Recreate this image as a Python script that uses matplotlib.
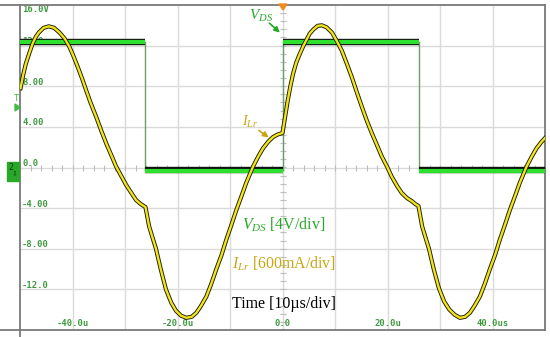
import matplotlib
matplotlib.use("Agg")
import matplotlib.pyplot as plt
import numpy as np
from matplotlib.lines import Line2D
from matplotlib.patches import Rectangle, Polygon

# ---------------- data ----------------
# Resonant inductor current I_Lr, plotted in screen units (4 per division)
t_ilr = [-49.9, -49.4, -48.9, -48.2, -47.6, -47.0, -46.4, -45.5, -44.5, -43.5,
         -42.5, -41.5, -40.6, -39.8, -39.0, -38.2, -37.4, -36.5, -35.5, -34.5,
         -33.6, -32.6, -31.7, -30.7, -29.8, -28.8, -27.9, -27.0, -26.1, -25.4,
         -24.7, -24.1, -23.2, -22.2, -21.2, -20.3, -19.3, -18.3, -17.3, -16.4,
         -15.5, -14.5, -13.6, -12.6, -11.6, -10.7, -9.7, -8.8, -7.8, -6.9,
         -5.6, -4.6, -3.7, -2.7, -1.8, -0.9, 0.0, 0.5, 1.0, 1.5,
         2.0, 2.6, 3.3, 4.0, 4.6, 5.2, 5.9, 6.7, 7.5, 8.4,
         9.4, 10.3, 11.3, 12.2, 13.2, 14.1, 15.1, 16.0, 17.0, 18.0,
         18.9, 19.9, 20.8, 21.8, 22.7, 23.7, 24.6, 25.3, 25.9, 26.6,
         27.3, 27.9, 28.8, 29.8, 30.8, 31.8, 32.8, 33.8, 34.8, 35.7,
         36.6, 37.6, 38.5, 39.5, 40.5, 41.4, 42.4, 43.3, 44.3, 45.2,
         46.5, 47.5, 48.4, 49.3, 50.0]
i_ilr = [7.8, 9.1, 10.2, 11.3, 12.2, 12.85, 13.3, 13.75, 13.9, 13.75,
         13.3, 12.7, 11.9, 10.95, 9.9, 8.8, 7.6, 6.3, 5.0, 3.6,
         2.4, 1.2, 0.1, -0.85, -1.7, -2.5, -3.2, -3.6, -3.9, -5.8,
         -7.0, -8.0, -10.0, -12.0, -13.3, -14.1, -14.6, -14.8, -14.7, -14.3,
         -13.6, -12.7, -11.5, -10.0, -8.6, -7.1, -5.6, -4.2, -2.8, -1.5,
         0.1, 1.1, 1.9, 2.55, 3.0, 3.25, 3.4, 5.0, 6.6, 8.0,
         9.2, 10.3, 11.2, 12.0, 12.6, 13.2, 13.6, 13.95, 14.0, 13.8,
         13.3, 12.5, 11.5, 10.3, 8.9, 7.5, 6.0, 4.7, 3.4, 2.2,
         1.1, 0.1, -0.9, -1.8, -2.5, -3.0, -3.3, -3.6, -3.8, -5.8,
         -7.0, -8.0, -10.0, -11.9, -13.2, -14.0, -14.5, -14.8, -14.7, -14.3,
         -13.6, -12.7, -11.5, -10.0, -8.6, -7.1, -5.6, -4.2, -2.8, -1.5,
         0.1, 1.1, 1.9, 2.5, 2.9]

# Drain-source voltage V_DS: switching instants and levels (V)
vds_edges = [-50.0, -26.1, 0.0, 26.0, 50.0]
vds_levels = [12.4, -0.25, 12.4, -0.25]

x_ticks = [-40, -20, 0, 20, 40]
x_labels = ["-40.0u", "-20.0u", "0.0", "20.0u", "40.0us"]
y_ticks = [16, 12, 8, 4, 0, -4, -8, -12]
y_labels = ["16.0V", "12.0", "8.00", "4.00", "0.0", "-4.00", "-8.00", "-12.0"]

# ---------------- figure ----------------
W, H = 550, 337
fig = plt.figure(figsize=(W / 100, H / 100), dpi=100)
fig.patch.set_facecolor("white")
ax = fig.add_axes([20 / W, (H - 330) / H, 525 / W, 325 / H])
ax.set_xlim(-50, 50)
ax.set_ylim(-16, 16)
ax.set_xticks([])
ax.set_yticks([])
for s in ax.spines.values():
    s.set_color("#7a7a7a")
    s.set_linewidth(1.3)

grid_c = "#dadada"
for gx in np.arange(-40, 50, 10):
    ax.axvline(gx, color=grid_c, lw=1.0, zorder=1)
for gy in np.arange(-12, 16, 4):
    ax.axhline(gy, color=grid_c, lw=1.0, zorder=1)
# centre-line minor ticks
mx = np.arange(-50, 50.1, 2)
ax.plot(mx, np.zeros_like(mx), ls="none", marker="|", ms=4, mew=0.8,
        color="#bdbdbd", zorder=1.5)
my = np.arange(-16, 16.1, 0.8)
ax.plot(np.zeros_like(my), my, ls="none", marker="_", ms=4, mew=0.8,
        color="#bdbdbd", zorder=1.5)

# tick labels inside plot
lab_c = "#3f9a3f"
for yt, yl in zip(y_ticks, y_labels):
    yy = yt - 0.45 if yt == 16 else yt + 0.4
    ax.text(-49.6, yy, yl, family="DejaVu Sans Mono", fontsize=6.4,
            color=lab_c, ha="left", va="center", zorder=2, fontweight="bold")
for xt, xl in zip(x_ticks, x_labels):
    ax.text(xt, -15.4, xl, family="DejaVu Sans Mono", fontsize=6.4,
            color=lab_c, ha="center", va="center", zorder=2, fontweight="bold")

# V_DS trace: thin vertical edges, thick horizontal levels
for k in range(1, len(vds_edges) - 1):
    ax.plot([vds_edges[k], vds_edges[k]], [vds_levels[k - 1], vds_levels[k]],
            color="#6a9e6a", lw=1.0, zorder=3)
for k in range(len(vds_levels)):
    xs = [vds_edges[k], vds_edges[k + 1]]
    ys = [vds_levels[k], vds_levels[k]]
    ax.plot(xs, ys, color="#111111", lw=4.6, solid_capstyle="butt", zorder=4)
    ax.plot(xs, [y - 0.08 for y in ys], color="#2ee02e", lw=3.0,
            solid_capstyle="butt", zorder=4.1)

# I_Lr trace
ax.plot(t_ilr, i_ilr, color="#1a1a00", lw=3.0, zorder=5, solid_joinstyle="round")
ax.plot(t_ilr, i_ilr, color="#f2e41c", lw=1.7, zorder=5.1, solid_joinstyle="round")

# annotations
green_t = "#26a826"
gold_t = "#c9a516"
serif = ["Liberation Serif", "DejaVu Serif"]
plt.rcParams["mathtext.fontset"] = "custom"
plt.rcParams["mathtext.it"] = "Liberation Serif:italic"
plt.rcParams["mathtext.rm"] = "Liberation Serif"

ax.text(-6.4, 14.95, r"$V_{DS}$", color=green_t, fontsize=11, family=serif,
        ha="left", va="center", zorder=6)
ax.annotate("", xy=(-0.1, 13.1), xytext=(-2.9, 14.4),
            arrowprops=dict(arrowstyle="-|>", color=green_t, lw=1.2,
                            mutation_scale=8), zorder=6)
ax.text(-7.7, 4.5, r"$I_{Lr}$", color=gold_t, fontsize=10, family=serif,
        ha="left", va="center", zorder=6)
ax.annotate("", xy=(-2.2, 2.8), xytext=(-4.9, 3.8),
            arrowprops=dict(arrowstyle="-|>", color=gold_t, lw=1.2,
                            mutation_scale=8), zorder=6)

ax.text(-7.7, -5.6, r"$V_{DS}$ [4V/div]", color=green_t, fontsize=11.4,
        family=serif, ha="left", va="center", zorder=6)
ax.text(-9.6, -9.45, r"$I_{Lr}$ [600mA/div]", color=gold_t, fontsize=11.4,
        family=serif, ha="left", va="center", zorder=6)
ax.text(-9.6, -13.45, "Time [10\u00b5s/div]", color="black", fontsize=11.4,
        family=serif, ha="left", va="center", zorder=6)

# frame extensions / scope markers in figure pixel coords
def fx(px):
    return px / W

def fy(py):
    return 1 - py / H

fig.add_artist(Line2D([0, fx(20)], [fy(5), fy(5)], color="#7a7a7a", lw=1.3))
fig.add_artist(Line2D([0, fx(20)], [fy(330), fy(330)], color="#7a7a7a", lw=1.3))
fig.add_artist(Line2D([fx(20), fx(20)], [fy(330), 0], color="#7a7a7a", lw=1.3))
# trigger time marker (orange) at top centre
fig.add_artist(Polygon([[fx(279), fy(4)], [fx(287), fy(4)], [fx(283), fy(10)]],
                       closed=True, color="#f08a1c"))
# trigger level marker
fig.text(fx(16.5), fy(98), "T", color="#3fbf3f", fontsize=6.5,
         family="DejaVu Sans Mono", ha="center", va="center")
fig.add_artist(Polygon([[fx(15), fy(104)], [fx(15), fy(111)], [fx(20), fy(107.5)]],
                       closed=True, color="#3fbf3f"))
# channel 2 marker
fig.add_artist(Rectangle((fx(7), fy(181)), fx(12), fy(162) - fy(181),
                         color="#2aa82a"))
fig.text(fx(10.5), fy(168), "2", color="#0c3d0c", fontsize=6,
         family="DejaVu Sans Mono", ha="center", va="center")
fig.text(fx(15), fy(174), "\u21e9", color="#0c3d0c", fontsize=5,
         ha="center", va="center")

fig.savefig("out.png", dpi=100, facecolor="white")
